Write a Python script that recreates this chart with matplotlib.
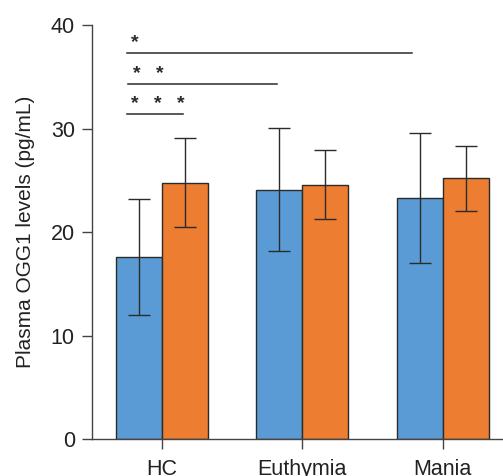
import matplotlib
matplotlib.use("Agg")
import matplotlib.pyplot as plt
import numpy as np

plt.rcParams['font.family'] = ['Liberation Sans', 'DejaVu Sans']

# datos
grupos = ['HC', 'Euthymia', 'Mania']
media_azul = [17.6, 24.1, 23.3]
sd_azul = [5.6, 5.95, 6.25]
media_naranja = [24.8, 24.6, 25.2]
sd_naranja = [4.3, 3.35, 3.15]

# comparaciones: (x inicio, x fin, altura, numero de asteriscos)
comparaciones = [
    (-0.25, 1.78, 37.3, 1),
    (-0.24, 0.82, 34.3, 2),
    (-0.25, 0.15, 31.4, 3),
]

azul = '#5B9BD5'
naranja = '#ED7D31'
borde = '#2b2b2b'

fig = plt.figure(figsize=(5.03, 4.76), dpi=100)
ax = fig.add_axes([0.1823, 0.0771, 0.8177, 0.8697])

x = np.arange(len(grupos))
ancho = 0.327

ax.bar(x - ancho / 2, media_azul, ancho, color=azul, edgecolor=borde, linewidth=1.0,
       yerr=sd_azul, capsize=8, error_kw=dict(ecolor=borde, elinewidth=1.0, capthick=1.0))
ax.bar(x + ancho / 2, media_naranja, ancho, color=naranja, edgecolor=borde, linewidth=1.0,
       yerr=sd_naranja, capsize=8, error_kw=dict(ecolor=borde, elinewidth=1.0, capthick=1.0))

for x1, x2, h, n in comparaciones:
    ax.plot([x1, x2], [h, h], color=borde, linewidth=1.1)
    for i in range(n):
        ax.text(x1 + 0.06 + i * 0.163, h + 0.2, '*', ha='center', va='bottom',
                fontsize=14, color=borde, fontweight='bold')

ax.set_xlim(-0.5, 2.43)
ax.set_ylim(0, 40)
ax.set_yticks([0, 10, 20, 30, 40])
ax.set_xticks(x)
ax.set_xticklabels(grupos)
ax.set_ylabel('Plasma OGG1 levels (pg/mL)', fontsize=15, color='#222222', labelpad=11)

ax.spines['top'].set_visible(False)
ax.spines['right'].set_visible(False)
for s in ['left', 'bottom']:
    ax.spines[s].set_color('#444444')
    ax.spines[s].set_linewidth(1.0)
ax.tick_params(axis='both', length=7.2, width=1.0, color='#444444', labelsize=15.5,
               labelcolor='#222222')
ax.tick_params(axis='y', pad=5)
ax.tick_params(axis='x', pad=7)

fig.savefig('out.png', dpi=100)
